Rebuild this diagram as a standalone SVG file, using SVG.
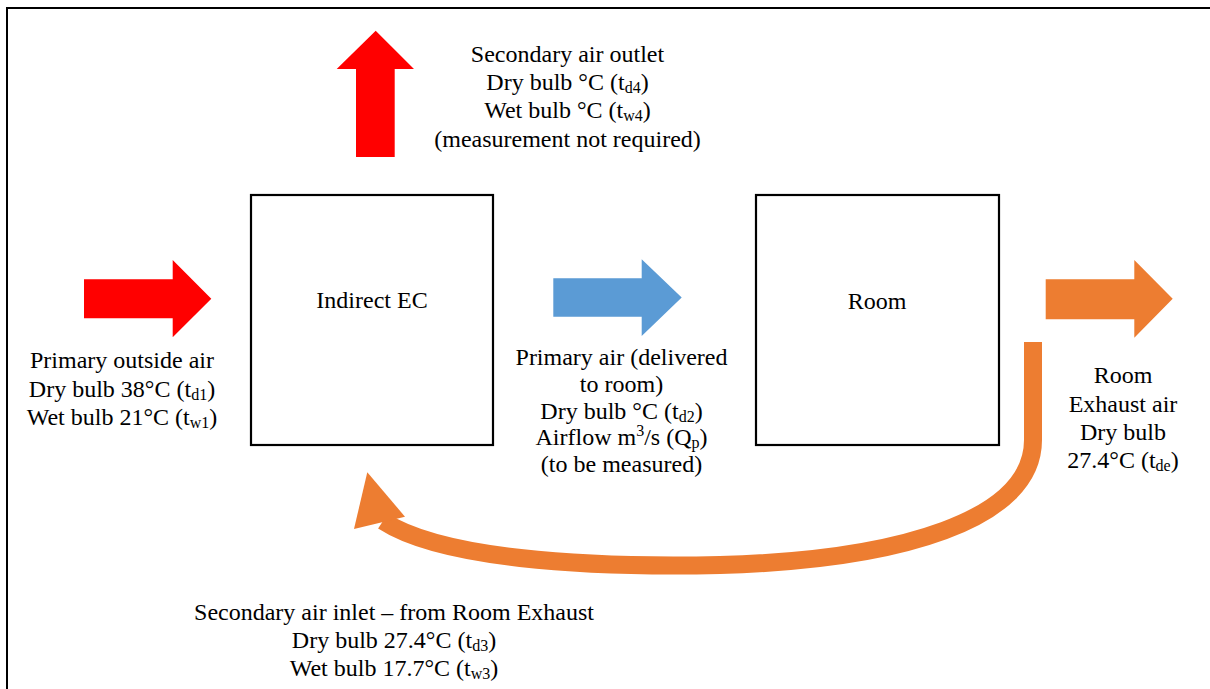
<svg xmlns="http://www.w3.org/2000/svg" width="1210" height="689" viewBox="0 0 1210 689">
  <style>
    .frame { fill: none; stroke: #000; stroke-width: 2; }
    .box { fill: #fff; stroke: #000; stroke-width: 2.2; }
    .lbl { font-size: 24px; fill: #000; text-anchor: middle; }
    .sub { font-size: 16px; }
    .hot { fill: #FF0000; }
    .cool { fill: #5B9BD5; }
    .warm { fill: #ED7D31; }
  </style>
  <rect width="1210" height="689" fill="#fff"/>
  <rect class="frame" x="7" y="8" width="1220" height="700"/>

  <g font-family="'Liberation Serif', Tinos, 'Times New Roman', 'DejaVu Serif', serif">
  <!-- process blocks -->
  <g id="indirect-ec">
    <rect class="box" x="251" y="195" width="242" height="250"/>
    <text class="lbl" x="372" y="308">Indirect EC</text>
  </g>
  <g id="room">
    <rect class="box" x="756" y="195" width="243" height="250"/>
    <text class="lbl" x="877" y="309">Room</text>
  </g>

  <!-- air flows -->
  <g id="connectors">
    <polygon id="secondary-outlet" class="hot" points="356,157 356,69 336.7,69 375.7,30.7 414,69 394.7,69 394.7,157"/>
    <polygon id="primary-inlet" class="hot" points="84,279.3 172.7,279.3 172.7,260 211.3,298.7 172.7,337.3 172.7,318.3 84,318.3"/>
    <polygon id="primary-supply" class="cool" points="553.3,278.3 641.7,278.3 641.7,259.3 681.7,297.5 641.7,336 641.7,316.7 553.3,316.7"/>
    <polygon id="room-exhaust" class="warm" points="1045.7,279.3 1134.3,279.3 1134.3,260 1172.7,298.7 1134.3,337.7 1134.3,319.3 1045.7,319.3"/>
    <g id="secondary-return">
      <path d="M1033,342 L1033,440 C1033,520 900,560 720,565 C580,568 440,558 383,521" fill="none" stroke="#ED7D31" stroke-width="18"/>
      <polygon class="warm" points="367.3,472.3 405,516.7 354,529"/>
    </g>
  </g>

  <!-- annotations -->
  <g id="label-secondary-outlet">
    <text class="lbl" x="567.5" y="62">Secondary air outlet</text>
    <text class="lbl" x="567.5" y="90">Dry bulb °C (t<tspan class="sub" dy="3">d4</tspan><tspan dy="-3">)</tspan></text>
    <text class="lbl" x="567.5" y="118">Wet bulb °C (t<tspan class="sub" dy="3">w4</tspan><tspan dy="-3">)</tspan></text>
    <text class="lbl" x="567.5" y="147">(measurement not required)</text>
  </g>
  <g id="label-primary-inlet">
    <text class="lbl" x="122" y="368">Primary outside air</text>
    <text class="lbl" x="122" y="396.5">Dry bulb 38°C (t<tspan class="sub" dy="3">d1</tspan><tspan dy="-3">)</tspan></text>
    <text class="lbl" x="122" y="425">Wet bulb 21°C (t<tspan class="sub" dy="3">w1</tspan><tspan dy="-3">)</tspan></text>
  </g>
  <g id="label-primary-supply">
    <text class="lbl" x="621.5" y="365">Primary air (delivered</text>
    <text class="lbl" x="621.5" y="392">to room)</text>
    <text class="lbl" x="621.5" y="418.5">Dry bulb °C (t<tspan class="sub" dy="3">d2</tspan><tspan dy="-3">)</tspan></text>
    <text class="lbl" x="621.5" y="445">Airflow m<tspan class="sub" dy="-9">3</tspan><tspan dy="9">/s (Q</tspan><tspan class="sub" dy="3">p</tspan><tspan dy="-3">)</tspan></text>
    <text class="lbl" x="621.5" y="472">(to be measured)</text>
  </g>
  <g id="label-room-exhaust">
    <text class="lbl" x="1123" y="383">Room</text>
    <text class="lbl" x="1123" y="411.5">Exhaust air</text>
    <text class="lbl" x="1123" y="440">Dry bulb</text>
    <text class="lbl" x="1123" y="468">27.4°C (t<tspan class="sub" dy="3">de</tspan><tspan dy="-3">)</tspan></text>
  </g>
  <g id="label-secondary-inlet">
    <text class="lbl" x="394" y="620">Secondary air inlet – from Room Exhaust</text>
    <text class="lbl" x="394" y="648">Dry bulb 27.4°C (t<tspan class="sub" dy="3">d3</tspan><tspan dy="-3">)</tspan></text>
    <text class="lbl" x="394" y="676">Wet bulb 17.7°C (t<tspan class="sub" dy="3">w3</tspan><tspan dy="-3">)</tspan></text>
  </g>
  </g>
</svg>
